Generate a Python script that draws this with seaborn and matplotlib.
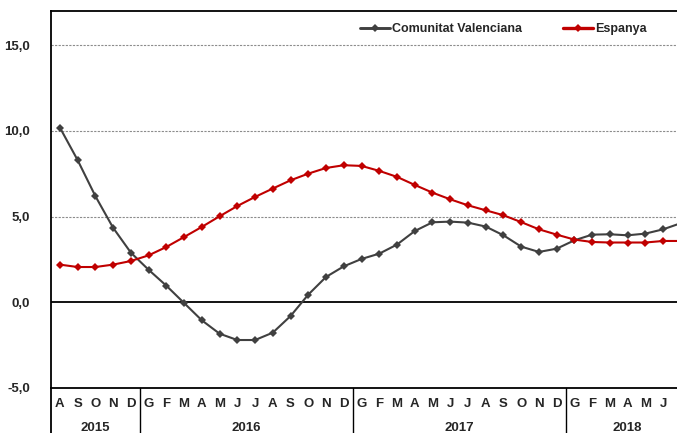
import pandas as pd
import seaborn as sns
import matplotlib.pyplot as plt
from matplotlib.ticker import FuncFormatter

# Dades: variació interanual (%), agost 2015 - juliol 2018
mesos = ['A', 'S', 'O', 'N', 'D',
         'G', 'F', 'M', 'A', 'M', 'J', 'J', 'A', 'S', 'O', 'N', 'D',
         'G', 'F', 'M', 'A', 'M', 'J', 'J', 'A', 'S', 'O', 'N', 'D',
         'G', 'F', 'M', 'A', 'M', 'J', 'J']
anys = ['2015', '2016', '2017', '2018']
mesos_per_any = [5, 12, 12, 7]

valenciana = [10.2, 8.3, 6.2, 4.35, 2.9,
              1.9, 0.97, -0.04, -1.05, -1.83, -2.2, -2.2, -1.77, -0.8, 0.45, 1.48, 2.1,
              2.53, 2.84, 3.37, 4.16, 4.67, 4.71, 4.65, 4.42, 3.91, 3.25, 2.94, 3.13,
              3.62, 3.95, 3.97, 3.91, 4.01, 4.26, 4.62]
espanya = [2.2, 2.06, 2.06, 2.2, 2.41,
           2.74, 3.23, 3.81, 4.4, 5.02, 5.62, 6.15, 6.64, 7.12, 7.51, 7.84, 8.0,
           7.96, 7.67, 7.32, 6.85, 6.4, 6.01, 5.66, 5.37, 5.08, 4.68, 4.26, 3.95,
           3.66, 3.52, 3.49, 3.49, 3.49, 3.58, 3.58]

n = len(mesos)
df = pd.DataFrame({
    'mes': list(range(n)) * 2,
    'valor': valenciana + espanya,
    'serie': ['Comunitat Valenciana'] * n + ['Espanya'] * n,
})

sns.set_style('white')
plt.rcParams['font.family'] = ['Liberation Sans', 'DejaVu Sans']
plt.rcParams['font.weight'] = 'bold'

fig = plt.figure(figsize=(6.77, 4.33), dpi=100)
ax = fig.add_axes([51 / 677, 1 - 388 / 433, 1 - 51 / 677, (388 - 11) / 433])

# Línies de referència
for y in [5, 10, 15]:
    ax.axhline(y, color='#8c8c8c', lw=0.8, ls=(0, (2, 1.2)), zorder=1)
ax.axhline(0, color='black', lw=1.3, zorder=1)

sns.lineplot(data=df, x='mes', y='valor', hue='serie', style='serie',
             palette={'Comunitat Valenciana': '#404040', 'Espanya': '#c00000'},
             markers={'Comunitat Valenciana': 'D', 'Espanya': 'D'},
             dashes=False, markersize=4.5, markeredgewidth=0, ax=ax, zorder=3)
for line, lw in zip(ax.get_lines()[-2:], [2.1, 2.4]):
    line.set_linewidth(lw)

ax.set_xlim(-0.5, 34.78)
ax.set_ylim(-5, 17)
ax.set_yticks([-5, 0, 5, 10, 15])
ax.yaxis.set_major_formatter(FuncFormatter(lambda v, p: f'{v:.1f}'.replace('.', ',')))
visibles = [i for i in range(n) if i <= 34]
ax.set_xticks(visibles)
ax.set_xticklabels([mesos[i] for i in visibles])
ax.tick_params(axis='both', length=0, labelsize=9.5)
ax.tick_params(axis='y', pad=15)
ax.tick_params(axis='x', pad=7)
ax.set_xlabel('')
ax.set_ylabel('')

for s in ['left', 'bottom', 'top']:
    ax.spines[s].set_color('black')
    ax.spines[s].set_linewidth(1.3)
ax.spines['right'].set_visible(False)

# Separadors d'anys i etiquetes
tr = ax.get_xaxis_transform()
ax.plot([-0.5, -0.5], [0, -0.2], transform=tr, color='black', lw=1.3, clip_on=False)
inici = -0.5
for a, m in zip(anys, mesos_per_any):
    fi = inici + m
    ax.text((inici + fi) / 2, -0.106, a, transform=tr, ha='center', va='center',
            fontsize=9.5, fontweight='bold')
    if fi < 34:
        ax.plot([fi, fi], [0, -0.2], transform=tr, color='black', lw=1.0, clip_on=False)
    inici = fi

leg = ax.legend(ncol=2, frameon=False, loc='center', bbox_to_anchor=(0.722, 0.952),
                fontsize=9, handlelength=2.4, handletextpad=0.15, columnspacing=3.3)
for t in leg.get_texts():
    t.set_fontweight('bold')

fig.savefig('out.png', dpi=100)
